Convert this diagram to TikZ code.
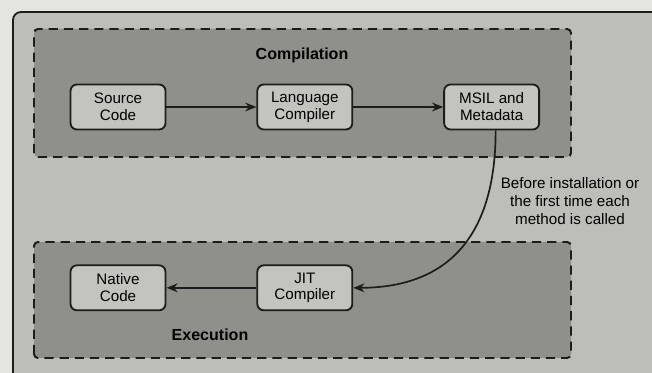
\documentclass[tikz,border=0pt]{standalone}
\usepackage{fontspec}
\setmainfont{Liberation Sans}
\usetikzlibrary{arrows.meta,positioning}
\definecolor{ink}{HTML}{1C1C1C}
\definecolor{paper}{HTML}{E4E4E2}
\definecolor{panel}{HTML}{BDBDB9}
\definecolor{groupgray}{HTML}{8F8F8B}
\definecolor{boxgray}{HTML}{C3C3BF}
\tikzset{unit/.style={draw=ink,fill=boxgray,line width=1.3pt,rounded corners=1.6mm,
    minimum width=2.375cm,minimum height=1.125cm,inner sep=0pt,align=center,
    font=\fontsize{10.8}{12}\selectfont},
  group/.style={draw=ink,fill=groupgray,line width=1.4pt,
    dash pattern=on 2.3mm off 1.5mm,rounded corners=1mm},
  flow/.style={draw=ink,line width=1.2pt,-{Stealth[length=2.8mm,width=2.2mm]}},
  title/.style={font=\bfseries\fontsize{11.4}{13}\selectfont},
  note/.style={align=center,font=\fontsize{10.8}{12.8}\selectfont}}

\begin{document}
\begin{tikzpicture}
\fill[paper] (0,0) rectangle (16.3,9.325);
\useasboundingbox (0,0) rectangle (16.3,9.325);
% the outer panel runs off the right and bottom edges
\begin{scope}
\clip (0,0) rectangle (16.3,9.325);
\draw[ink,fill=panel,line width=1.3pt,rounded corners=2mm] (0.325,-1) rectangle (17.3,9.025);
\end{scope}
\draw[group] (0.85,5.4) rectangle (14.275,8.6);
\draw[group] (0.85,0.375) rectangle (14.275,3.275);
\node[title] (compil) at (7.55,7.95) {Compilation};
\node[title] (exec) at (5.25,0.95) {Execution};
\node[unit] (src) at (2.95,6.65) {Source\\Code};
\node[unit,right=2.25cm of src] (lang) {Language\\Compiler};
\node[unit,right=2.25cm of lang] (msil) {MSIL and\\Metadata};
\node[unit,below=3.35cm of src] (native) {Native\\Code};
\node[unit,below=3.35cm of lang] (jit) {JIT\\Compiler};
\node[note] (when) at (14.25,4.3) {Before installation or\\the first time each\\method is called};
\draw[flow] (src) -- (lang);
\draw[flow] (lang) -- (msil);
\draw[flow] (jit) -- (native);
\draw[flow] ([xshift=1mm]msil.south) .. controls +(0,-2.75) and +(2.275,0) .. (jit.east);
\end{tikzpicture}
\end{document}
